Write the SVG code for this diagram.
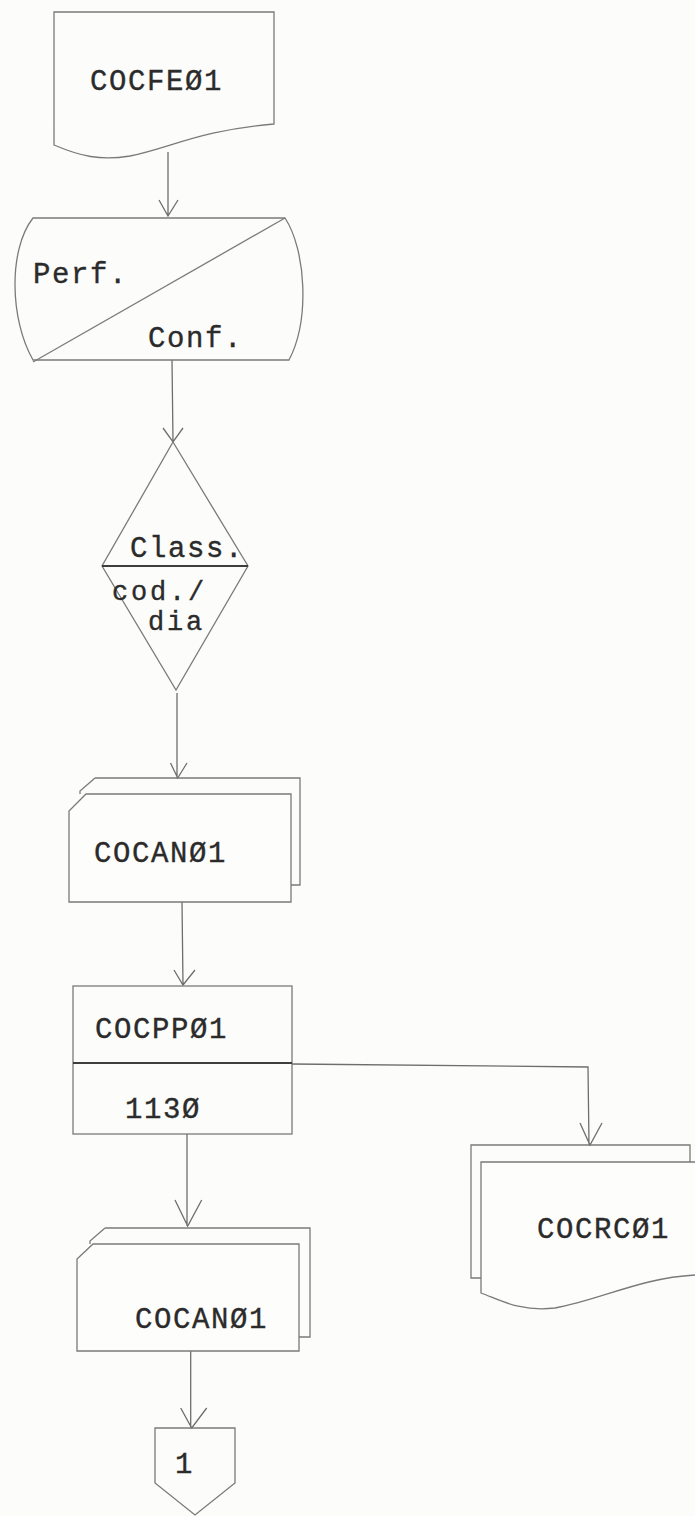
<svg xmlns="http://www.w3.org/2000/svg" width="695" height="1516" viewBox="0 0 695 1516">
<style>
.s{fill:none;stroke:#7a7a7a;stroke-width:1.3;stroke-linejoin:miter}
.w{fill:#fdfdfb;stroke:#7a7a7a;stroke-width:1.3}
.d{fill:none;stroke:#3e3e3e;stroke-width:2}
.c{fill:none;stroke:#6e6e6e;stroke-width:1.3}
.t{font-family:"Liberation Mono","Courier New",monospace;font-size:29px;letter-spacing:1.6px;fill:#2b2b2b;stroke:#2b2b2b;stroke-width:0.35}
.sm{font-size:27px;letter-spacing:2.8px}
</style>
<rect x="0" y="0" width="695" height="1516" fill="#fcfcfa"/>
<g id="connectors">
<path class="c" d="M168,152 V216 M159,200 L168,216 L178,200"/>
<path class="c" d="M172,360 L173,442 M163,428 L173,442 L183,428"/>
<path class="c" d="M177,693 V778 M170.5,763 L177.7,778 L187,763"/>
<path class="c" d="M182,902 L183,985 M174,970 L183,985 L195,970"/>
<path class="c" d="M187,1134 V1226 M175,1200 L187.7,1226 L201.7,1200"/>
<path class="c" d="M292,1064 L588,1067 L589,1145 M580,1123 L590,1145 L602,1123"/>
<path class="c" d="M190.7,1351 V1428 M180.7,1408 L191.7,1428 L206.7,1408"/>
</g>
<g id="cocfe01">
<path class="s" d="M54,145 V12 H274 V124 C200,130 170,148 130,156 C100,161 80,156 54,145 Z"/>
<text class="t" x="90" y="90">COCFEØ1</text>
</g>
<g id="perf-conf">
<path class="s" d="M33,218 H285 C306,250 310,320 289,360 H33 C10,320 8,250 33,218 Z"/>
<path class="s" d="M33,362 L285,218"/>
<text class="t" x="33" y="283">Perf.</text>
<text class="t" x="148" y="347">Conf.</text>
</g>
<g id="class-decision">
<path class="s" d="M173,442 L248,566 L176,690 L102,566 Z"/>
<path class="d" d="M102,566 H248"/>
<text class="t" x="130" y="557">Class.</text>
<text class="t sm" x="112" y="600">cod./</text>
<text class="t sm" x="148" y="630">dia</text>
</g>
<g id="cocan01-a">
<path class="s" d="M95,778 H300 V885 H288"/>
<path class="s" d="M95,778 L80,791 V794"/>
<path class="w" d="M86,794 H291 V902 H69 V811 Z"/>
<text class="t" x="94" y="862">COCANØ1</text>
</g>
<g id="cocpp01">
<rect class="s" x="73" y="986" width="219" height="148"/>
<path class="d" d="M73,1063 H292"/>
<text class="t" x="95" y="1038">COCPPØ1</text>
<text class="t" x="125" y="1118">113Ø</text>
</g>
<g id="cocrc01">
<path class="s" d="M481,1278 H471 V1145 H690 V1162"/>
<path class="w" d="M481,1162 H700 V1275 H695 C640,1278 600,1300 555,1308 C520,1312 500,1300 481,1293 Z"/>
<text class="t" x="537" y="1238">COCRCØ1</text>
</g>
<g id="cocan01-b">
<path class="s" d="M105,1228 H310 V1337 H299"/>
<path class="s" d="M105,1228 L90,1241 V1244"/>
<path class="w" d="M93,1244 H299 V1351 H77 V1259 Z"/>
<text class="t" x="135" y="1328">COCANØ1</text>
</g>
<g id="connector-1">
<path class="s" d="M155,1428 H235 V1483 L195,1515 L155,1483 Z"/>
<text class="t" x="175" y="1473">1</text>
</g>
</svg>
